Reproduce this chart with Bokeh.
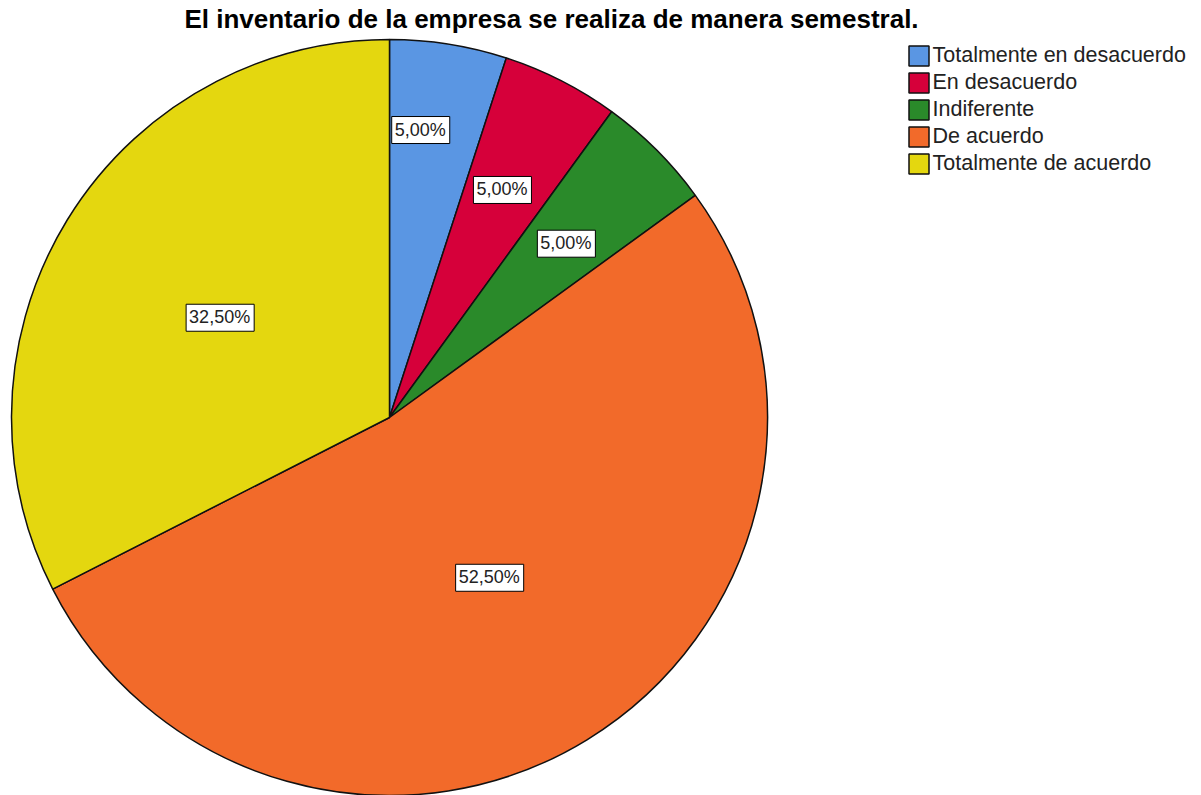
import math
from bokeh.plotting import figure
from bokeh.models import ColumnDataSource, Legend, LegendItem, Range1d
from bokeh.core.properties import value
from bokeh.embed import file_html
from bokeh.resources import INLINE

title_text = "El inventario de la empresa se realiza de manera semestral."
categories = ["Totalmente en desacuerdo", "En desacuerdo", "Indiferente",
              "De acuerdo", "Totalmente de acuerdo"]
percentages = [5.0, 5.0, 5.0, 52.5, 32.5]
colors = ["#5A96E3", "#D6003A", "#2A8A2A", "#F26A2A", "#E4D70F"]

# label placement (fraction of radius, small angular shift in degrees)
label_rfrac = [0.765, 0.672, 0.656, 0.50, 0.52]
label_shift = [2.8, 0.6, -0.5, 0.5, 1.0]

W, H = 1201, 795
cx, cy, R = 389, 378, 378

p = figure(width=W, height=H, output_backend="svg", toolbar_location=None,
           x_range=Range1d(0, W), y_range=Range1d(0, H), min_border=0,
           outline_line_color=None)
p.axis.visible = False
p.grid.visible = False
p.background_fill_color = "white"
p.border_fill_color = "white"

total = sum(percentages)
starts, ends, lx, ly, labels = [], [], [], [], []
cum = 0.0
for i, v in enumerate(percentages):
    a0 = 90 - cum / total * 360
    cum += v
    a1 = 90 - cum / total * 360
    starts.append(math.radians(a0))
    ends.append(math.radians(a1))
    mid = math.radians((a0 + a1) / 2 + label_shift[i])
    lx.append(cx + R * label_rfrac[i] * math.cos(mid))
    ly.append(cy + R * label_rfrac[i] * math.sin(mid))
    labels.append(f"{v:.2f}".replace(".", ",") + "%")

src = ColumnDataSource(dict(start=starts, end=ends, color=colors, cat=categories,
                            lx=lx, ly=ly, label=labels))

items = []
for i in range(len(categories)):
    r = p.wedge(x=cx, y=cy, radius=R, start_angle=starts[i], end_angle=ends[i],
                direction="clock", fill_color=colors[i], line_color="#111111",
                line_width=1.5)
    items.append(LegendItem(label=categories[i], renderers=[r]))

p.text(x="lx", y="ly", text="label", source=src, text_align="center",
       text_baseline="middle", text_font=value("Liberation Sans"),
       text_font_size="18px", text_color="#222222",
       background_fill_color="white", border_line_color="black",
       border_line_width=1, padding=[3, 4, 3, 4])

p.text(x=[551], y=[777], text=[title_text], text_align="center",
       text_baseline="middle", text_font=value("Liberation Sans"),
       text_font_style="bold", text_font_size="26px", text_color="black")

legend = Legend(items=items, location=(905.5, 619), glyph_width=25, glyph_height=25,
                label_standoff=2, spacing=2, padding=0, margin=0,
                label_height=25, border_line_color=None, background_fill_alpha=0,
                label_text_font="Liberation Sans", label_text_font_size="21.5px",
                label_text_color="#222222")
p.add_layout(legend)

open("out.html", "w").write(file_html(p, INLINE))
